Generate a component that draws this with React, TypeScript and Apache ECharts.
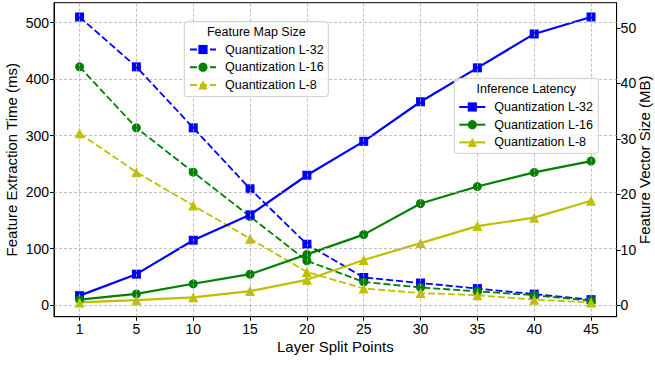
import React, { useEffect, useRef } from "react";
import * as echarts from "echarts";

const categories = ["1", "5", "10", "15", "20", "25", "30", "35", "40", "45"];

// Inference Latency (ms) — left axis, solid lines
const latencyL32 = [17, 55, 115, 160, 230, 290, 360, 420, 480, 510];
const latencyL16 = [10, 20, 38, 55, 90, 125, 180, 210, 235, 255];
const latencyL8 = [5, 9, 14, 25, 45, 80, 110, 140, 155, 185];

// Feature Map Size (MB) — right axis, dashed lines
const mapL32 = [52, 43, 32, 21, 11, 5, 4, 3, 2, 1];
const mapL16 = [43, 32, 24, 16, 8, 4.2, 3.2, 2.5, 1.8, 0.8];
const mapL8 = [31, 24, 18, 12, 6, 3, 2.2, 1.8, 1.0, 0.5];

const leftTicks = [0, 100, 200, 300, 400, 500];
const rightTicks = [0, 10, 20, 30, 40, 50];

const legendLabels: Record<string, string> = {
  fm32: "Quantization L-32",
  fm16: "Quantization L-16",
  fm8: "Quantization L-8",
  il32: "Quantization L-32",
  il16: "Quantization L-16",
  il8: "Quantization L-8",
};

const FONT = "'Liberation Sans', Arial, Helvetica, sans-serif";
const BLUE = "#0000ff";
const GREEN = "#008000";
const YELLOW = "#bfbf00";

export default function App() {
  const ref = useRef<HTMLDivElement>(null);

  useEffect(() => {
    document.body.style.margin = "0";
    const chart = echarts.init(ref.current!, null, { renderer: "svg" });
    const idx = categories.map((_, i) => i);
    const pairs = (vals: number[]) => vals.map((v, i) => [i, v]);

    const gridStyle = { color: "#b0b0b0", type: [3, 2] as any, width: 0.8 };

    const dashed = (name: string, vals: number[], color: string, symbol: string, size: number) => ({
      name,
      type: "line",
      xAxisIndex: 0,
      yAxisIndex: 1,
      data: pairs(vals),
      symbol,
      symbolSize: size,
      showSymbol: true,
      lineStyle: { color, width: 1.8, type: [7, 3] },
      itemStyle: { color, borderWidth: 0 },
      z: 3,
    });
    const solid = (name: string, vals: number[], color: string, symbol: string, size: number) => ({
      name,
      type: "line",
      xAxisIndex: 0,
      yAxisIndex: 0,
      data: pairs(vals),
      symbol,
      symbolSize: size,
      showSymbol: true,
      lineStyle: { color, width: 2.2, type: "solid" },
      itemStyle: { color, borderWidth: 0 },
      z: 4,
    });

    const legendCommon = {
      orient: "vertical",
      padding: 0,
      itemWidth: 26,
      itemHeight: 11.5,
      itemGap: 3.7,
      selectedMode: false,
      z: 20,
      formatter: (n: string) => legendLabels[n] ?? n,
      textStyle: {
        fontFamily: FONT,
        fontSize: 12.5,
        lineHeight: 14,
        color: "#000",
        padding: [0, 0, 0, 4],
      },
    };

    const option: any = {
      animation: false,
      backgroundColor: "#ffffff",
      textStyle: { fontFamily: FONT },
      grid: {
        left: 54,
        right: 38.4,
        top: 2.7,
        bottom: 48.3,
        containLabel: false,
        outerBoundsMode: "none",
        show: true,
        borderColor: "#000",
        borderWidth: 1,
        backgroundColor: "transparent",
      },
      xAxis: {
        type: "value",
        min: -0.45,
        max: 9.45,
        name: "Layer Split Points",
        nameLocation: "middle",
        nameGap: 22,
        nameMoveOverlap: false,
        nameTextStyle: { fontFamily: FONT, fontSize: 15, color: "#000" },
        axisLine: { show: true, onZero: false, lineStyle: { color: "#000", width: 1 } },
        axisTick: { show: true, inside: false, length: 4, customValues: idx, lineStyle: { color: "#000" } },
        axisLabel: {
          customValues: idx,
          margin: 5,
          fontFamily: FONT,
          fontSize: 14,
          color: "#000",
          formatter: (v: number) => categories[Math.round(v)] ?? "",
        },
        splitLine: { show: false },
      },
      yAxis: [
        {
          type: "value",
          position: "left",
          min: -20.25,
          max: 535.25,
          name: "Feature Extraction Time (ms)",
          nameLocation: "middle",
          nameGap: 35,
          nameMoveOverlap: false,
          nameTextStyle: { fontFamily: FONT, fontSize: 15, color: "#000" },
          axisLine: { show: true, onZero: false, lineStyle: { color: "#000", width: 1 } },
          axisTick: { show: true, inside: false, length: 4, customValues: leftTicks, lineStyle: { color: "#000" } },
          axisLabel: { customValues: leftTicks, margin: 5, fontFamily: FONT, fontSize: 14, color: "#000" },
          splitLine: { show: false },
        },
        {
          type: "value",
          position: "right",
          min: -2.075,
          max: 54.575,
          name: "Feature Vector Size (MB)",
          nameLocation: "middle",
          nameRotate: 90,
          nameGap: 20,
          nameMoveOverlap: false,
          nameTextStyle: { fontFamily: FONT, fontSize: 15, color: "#000" },
          axisLine: { show: true, onZero: false, lineStyle: { color: "#000", width: 1 } },
          axisTick: { show: true, inside: false, length: 4, customValues: rightTicks, lineStyle: { color: "#000" } },
          axisLabel: { customValues: rightTicks, margin: 4, fontFamily: FONT, fontSize: 14, color: "#000" },
          splitLine: { show: false },
        },
      ],
      legend: [
        { ...legendCommon, data: ["fm32", "fm16", "fm8"], left: 189, top: 42.5 },
        { ...legendCommon, data: ["il32", "il16", "il8"], left: 458.3, top: 100 },
      ],
      graphic: [
        {
          type: "rect",
          shape: { x: 184.3, y: 21.7, width: 144, height: 75, r: 3 },
          style: { fill: "rgba(255,255,255,0.8)", stroke: "#cccccc", lineWidth: 1 },
          z: 10,
          silent: true,
        },
        {
          type: "text",
          x: 256.3,
          y: 31.7,
          style: { text: "Feature Map Size", fontFamily: FONT, fontSize: 12.5, fill: "#000", align: "center", verticalAlign: "middle" },
          z: 11,
          silent: true,
        },
        {
          type: "rect",
          shape: { x: 454.3, y: 78.3, width: 144, height: 75, r: 3 },
          style: { fill: "rgba(255,255,255,0.8)", stroke: "#cccccc", lineWidth: 1 },
          z: 10,
          silent: true,
        },
        {
          type: "text",
          x: 526.3,
          y: 89.3,
          style: { text: "Inference Latency", fontFamily: FONT, fontSize: 12.5, fill: "#000", align: "center", verticalAlign: "middle" },
          z: 11,
          silent: true,
        },
      ],
      series: [
        {
          name: "__grid",
          type: "line",
          xAxisIndex: 0,
          yAxisIndex: 0,
          data: [],
          silent: true,
          z: 1,
          markLine: {
            silent: true,
            symbol: ["none", "none"],
            label: { show: false },
            lineStyle: gridStyle,
            emphasis: { disabled: true },
            data: [
              ...idx.map((i) => ({ xAxis: i })),
              ...leftTicks.map((t) => ({ yAxis: t })),
            ],
          },
        },
        dashed("fm32", mapL32, BLUE, "rect", 9),
        dashed("fm16", mapL16, GREEN, "circle", 9),
        dashed("fm8", mapL8, YELLOW, "triangle", 10),
        solid("il32", latencyL32, BLUE, "rect", 9),
        solid("il16", latencyL16, GREEN, "circle", 9),
        solid("il8", latencyL8, YELLOW, "triangle", 10),
      ],
    };

    chart.setOption(option);
    return () => chart.dispose();
  }, []);

  return <div ref={ref} style={{ width: 655, height: 365 }} />;
}
